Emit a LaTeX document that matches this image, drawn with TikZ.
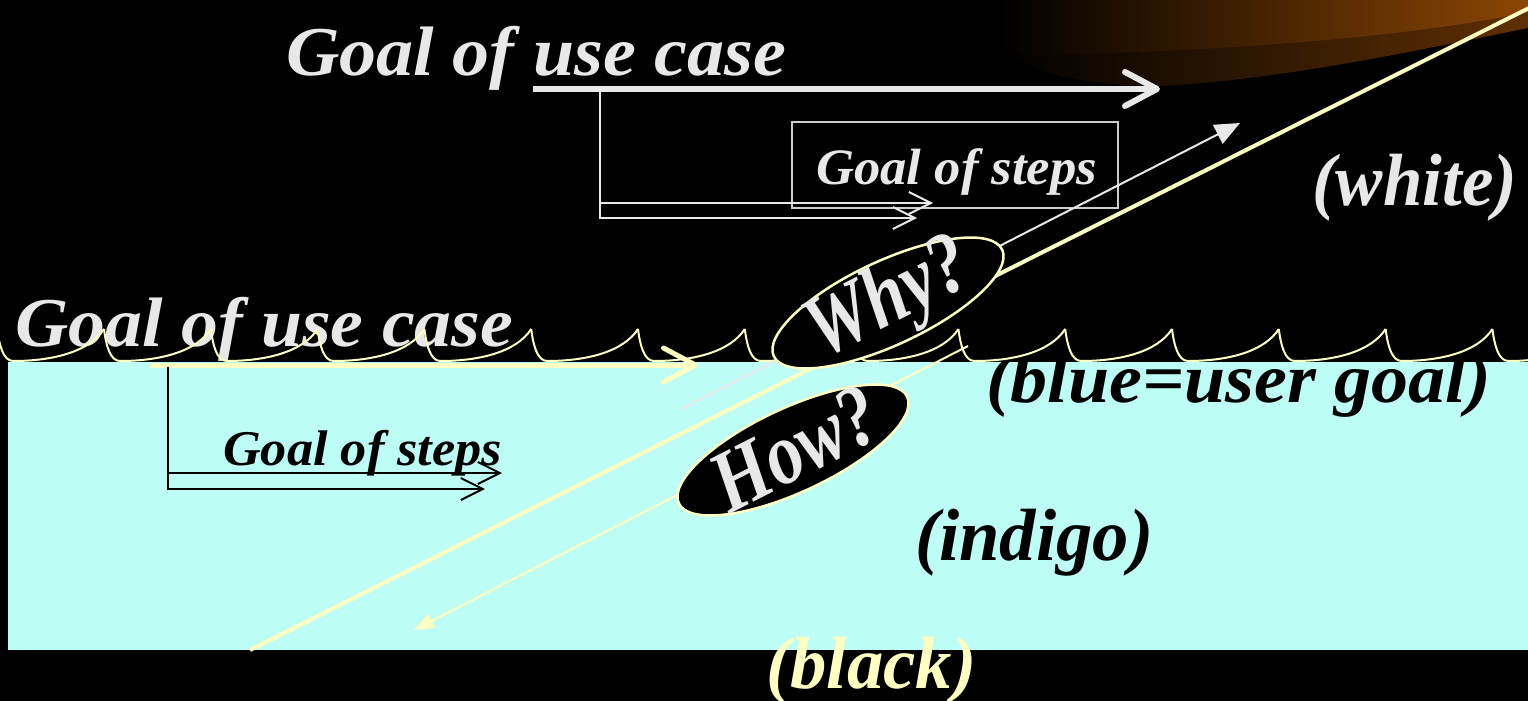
\documentclass[tikz,border=0pt]{standalone}
\usepackage{fontspec}
\setmainfont{Liberation Serif}
\usetikzlibrary{arrows.meta,shapes.geometric}

\definecolor{cream}{RGB}{255,255,196}
\definecolor{paper}{RGB}{232,232,232}
\definecolor{aqua}{RGB}{190,253,246}
\definecolor{boxgrey}{RGB}{205,205,205}
\definecolor{amberhi}{RGB}{140,70,4}
\definecolor{amberlo}{RGB}{96,48,4}

% bold italic text stretched to a given width
\newcommand{\bitext}[3]{\resizebox{#1}{\height}{\fontsize{#2}{#2}\selectfont\bfseries\itshape #3}}
% condensed bold italic text for the ovals
\newcommand{\ovalword}[1]{\scalebox{0.82}[1]{\fontsize{88}{88}\selectfont\bfseries\itshape #1}}

\begin{document}
\begin{tikzpicture}[x=1pt,y=-1pt,
  lbl/.style={inner sep=0pt, anchor=base west},
  wave/.style={cream, line width=2pt},
  bigchev/.style={-{Straight Barb[length=32pt,width=34pt,round]}},
  smallchev/.style={-{Straight Barb[length=22pt,width=22pt]}},
  oval/.style={ellipse, minimum width=252pt, minimum height=84pt, inner sep=0pt,
               rotate=25, fill=black, draw=cream, line width=2.5pt},
  ovaltext/.style={inner sep=0pt, rotate=27, text=paper}]
\useasboundingbox (0,0) rectangle (1528,701);
\clip (0,0) rectangle (1528,701);

% background
\fill[black] (0,0) rectangle (1528,701);

% amber glow in the top right corner
\shade[left color=black, right color=amberlo]
  (1000,0) -- (1000,35) .. controls (1005,70) and (1080,86) .. (1160,86)
  .. controls (1280,80) and (1420,50) .. (1528,28) -- (1528,0) -- cycle;
\shade[left color=black, right color=amberhi]
  (1000,0) -- (1000,40) .. controls (1002,52) and (1020,55) .. (1050,55)
  .. controls (1250,50) and (1420,35) .. (1528,12) -- (1528,0) -- cycle;

% sea level band
\fill[aqua] (8,362) rectangle (1528,650);

% labels
\node[lbl, text=paper] (ucTop)  at (286,75)  {\bitext{500pt}{70}{Goal of use case}};
\node[lbl, text=paper] (ucLow)  at (15,346)  {\bitext{498pt}{70}{Goal of use case}};
\node[lbl, text=paper] (stTop)  at (816,184) {\bitext{281pt}{51}{Goal of steps}};
\node[lbl, text=black] (stLow)  at (223,465) {\bitext{279pt}{50}{Goal of steps}};
\node[lbl, text=paper] (lWhite) at (1312,205) {\bitext{205pt}{74}{(white)}};
\node[lbl, text=black] (lBlue)  at (986,402) {\bitext{505pt}{70}{(blue=user goal)}};
\node[lbl, text=black] (lIndigo) at (915,560) {\bitext{238pt}{74}{(indigo)}};
\node[lbl, text=cream] (lBlack) at (766,688) {\bitext{210pt}{74}{(black)}};

% waves along the sea level
\foreach \k in {-1,...,13}{
  \pgfmathsetmacro{\c}{104+106.8*\k}
  \draw[wave] (\c,329) .. controls (\c+2,345) and (\c+6,361) .. (\c+16,361)
    .. controls (\c+55,361) and (\c+92,352) .. (\c+106.8,329);
}

% box around the upper step goal
\node[draw=boxgrey, line width=2pt, minimum width=326pt, minimum height=86pt,
      inner sep=0pt] (stepsBox) at (955,165) {};

% upper use case arrow and its steps
\coordinate (ucTail) at (533,89);
\coordinate (ucHead) at (1160,89);
\draw[paper, line width=6pt, bigchev] (ucTail) -- (ucHead);
\coordinate (upStem) at (600,92);
\coordinate (upStepA) at (600,203);
\coordinate (upHeadA) at (933,203);
\coordinate (upHeadB) at (917,218);
\draw[paper, line width=2pt, smallchev] (upStem) |- (upHeadB);
\draw[paper, line width=2pt, smallchev] (upStepA) -- (upHeadA);

% lower use case arrow and its steps
\coordinate (lowTail) at (150,365);
\coordinate (lowHead) at (698,365);
\draw[cream, line width=5pt, bigchev] (lowTail) -- (lowHead);
\coordinate (lowStem) at (168,367);
\coordinate (lowStepA) at (168,473);
\coordinate (lowHeadA) at (502,473);
\coordinate (lowHeadB) at (485,489);
\draw[black, line width=2pt, smallchev] (lowStem) |- (lowHeadB);
\draw[black, line width=2pt, smallchev] (lowStepA) -- (lowHeadA);

% diagonal lines
\coordinate (diagLow) at (250,650);
\coordinate (diagHigh) at (1545,0);
\draw[cream, line width=4pt] (diagLow) -- (diagHigh);
\coordinate (whyFrom) at (681,409);
\coordinate (whyTo) at (1240,123);
\draw[paper, line width=2pt, -{Triangle[length=25pt,width=21pt]}] (whyFrom) -- (whyTo);
\coordinate (howFrom) at (968,346);
\coordinate (howTo) at (414,630);
\draw[cream, line width=2pt, -{Triangle[length=20pt,width=15pt]}] (howFrom) -- (howTo);

% question ovals
\node[oval] (whyOval) at (888,303) {};
\node[ovaltext] (whyText) at ([xshift=2pt,yshift=1pt]whyOval.center) {\ovalword{Why?}};
\node[oval] (howOval) at (793,450) {};
\node[ovaltext] (howText) at ([xshift=2pt,yshift=1pt]howOval.center) {\ovalword{How?}};
\end{tikzpicture}
\end{document}
